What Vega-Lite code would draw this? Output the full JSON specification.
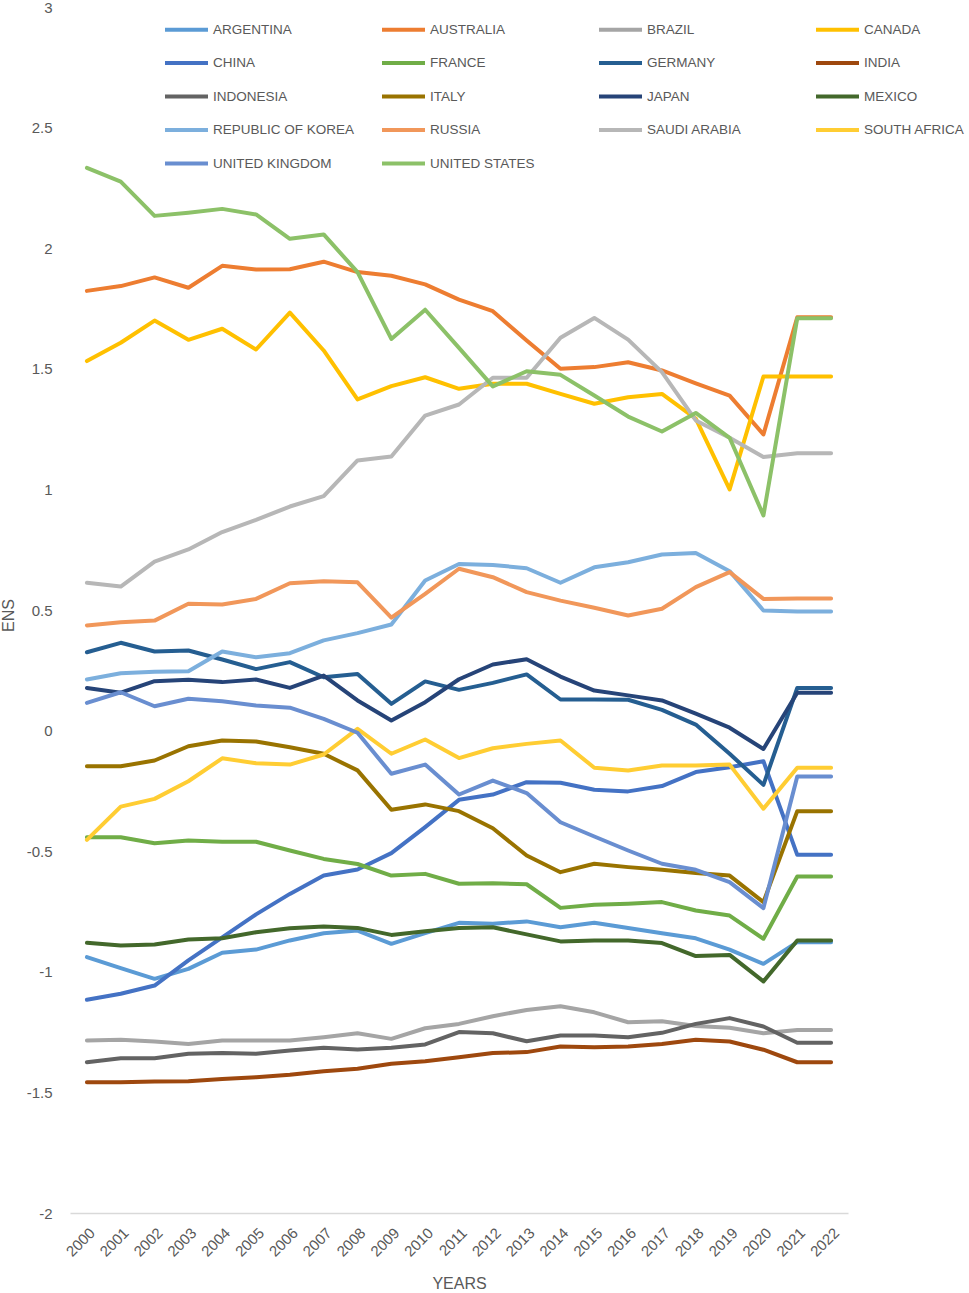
{
  "$schema": "https://vega.github.io/schema/vega-lite/v6.json",
  "autosize": {"type": "none"},
  "padding": {"left": 70, "top": 7, "right": 121, "bottom": 80},
  "width": 778,
  "height": 1206,
  "data": {
    "values": [
      {"country": "ARGENTINA", "year": "2000", "ens": -0.939}, {"country": "ARGENTINA", "year": "2001", "ens": -0.985}, {"country": "ARGENTINA", "year": "2002", "ens": -1.029}, {"country": "ARGENTINA", "year": "2003", "ens": -0.988}, {"country": "ARGENTINA", "year": "2004", "ens": -0.921}, {"country": "ARGENTINA", "year": "2005", "ens": -0.908}, {"country": "ARGENTINA", "year": "2006", "ens": -0.870}, {"country": "ARGENTINA", "year": "2007", "ens": -0.840}, {"country": "ARGENTINA", "year": "2008", "ens": -0.829}, {"country": "ARGENTINA", "year": "2009", "ens": -0.884}, {"country": "ARGENTINA", "year": "2010", "ens": -0.840}, {"country": "ARGENTINA", "year": "2011", "ens": -0.797}, {"country": "ARGENTINA", "year": "2012", "ens": -0.801}, {"country": "ARGENTINA", "year": "2013", "ens": -0.791}, {"country": "ARGENTINA", "year": "2014", "ens": -0.815}, {"country": "ARGENTINA", "year": "2015", "ens": -0.797}, {"country": "ARGENTINA", "year": "2016", "ens": -0.818}, {"country": "ARGENTINA", "year": "2017", "ens": -0.840}, {"country": "ARGENTINA", "year": "2018", "ens": -0.861}, {"country": "ARGENTINA", "year": "2019", "ens": -0.908}, {"country": "ARGENTINA", "year": "2020", "ens": -0.967}, {"country": "ARGENTINA", "year": "2021", "ens": -0.877}, {"country": "ARGENTINA", "year": "2022", "ens": -0.877},
      {"country": "AUSTRALIA", "year": "2000", "ens": 1.823}, {"country": "AUSTRALIA", "year": "2001", "ens": 1.843}, {"country": "AUSTRALIA", "year": "2002", "ens": 1.879}, {"country": "AUSTRALIA", "year": "2003", "ens": 1.836}, {"country": "AUSTRALIA", "year": "2004", "ens": 1.927}, {"country": "AUSTRALIA", "year": "2005", "ens": 1.912}, {"country": "AUSTRALIA", "year": "2006", "ens": 1.913}, {"country": "AUSTRALIA", "year": "2007", "ens": 1.944}, {"country": "AUSTRALIA", "year": "2008", "ens": 1.901}, {"country": "AUSTRALIA", "year": "2009", "ens": 1.886}, {"country": "AUSTRALIA", "year": "2010", "ens": 1.850}, {"country": "AUSTRALIA", "year": "2011", "ens": 1.787}, {"country": "AUSTRALIA", "year": "2012", "ens": 1.739}, {"country": "AUSTRALIA", "year": "2013", "ens": 1.617}, {"country": "AUSTRALIA", "year": "2014", "ens": 1.500}, {"country": "AUSTRALIA", "year": "2015", "ens": 1.507}, {"country": "AUSTRALIA", "year": "2016", "ens": 1.527}, {"country": "AUSTRALIA", "year": "2017", "ens": 1.493}, {"country": "AUSTRALIA", "year": "2018", "ens": 1.440}, {"country": "AUSTRALIA", "year": "2019", "ens": 1.389}, {"country": "AUSTRALIA", "year": "2020", "ens": 1.228}, {"country": "AUSTRALIA", "year": "2021", "ens": 1.714}, {"country": "AUSTRALIA", "year": "2022", "ens": 1.714},
      {"country": "BRAZIL", "year": "2000", "ens": -1.285}, {"country": "BRAZIL", "year": "2001", "ens": -1.282}, {"country": "BRAZIL", "year": "2002", "ens": -1.289}, {"country": "BRAZIL", "year": "2003", "ens": -1.299}, {"country": "BRAZIL", "year": "2004", "ens": -1.285}, {"country": "BRAZIL", "year": "2005", "ens": -1.285}, {"country": "BRAZIL", "year": "2006", "ens": -1.285}, {"country": "BRAZIL", "year": "2007", "ens": -1.271}, {"country": "BRAZIL", "year": "2008", "ens": -1.255}, {"country": "BRAZIL", "year": "2009", "ens": -1.278}, {"country": "BRAZIL", "year": "2010", "ens": -1.234}, {"country": "BRAZIL", "year": "2011", "ens": -1.216}, {"country": "BRAZIL", "year": "2012", "ens": -1.184}, {"country": "BRAZIL", "year": "2013", "ens": -1.158}, {"country": "BRAZIL", "year": "2014", "ens": -1.143}, {"country": "BRAZIL", "year": "2015", "ens": -1.168}, {"country": "BRAZIL", "year": "2016", "ens": -1.209}, {"country": "BRAZIL", "year": "2017", "ens": -1.205}, {"country": "BRAZIL", "year": "2018", "ens": -1.225}, {"country": "BRAZIL", "year": "2019", "ens": -1.232}, {"country": "BRAZIL", "year": "2020", "ens": -1.255}, {"country": "BRAZIL", "year": "2021", "ens": -1.241}, {"country": "BRAZIL", "year": "2022", "ens": -1.241},
      {"country": "CANADA", "year": "2000", "ens": 1.532}, {"country": "CANADA", "year": "2001", "ens": 1.608}, {"country": "CANADA", "year": "2002", "ens": 1.700}, {"country": "CANADA", "year": "2003", "ens": 1.620}, {"country": "CANADA", "year": "2004", "ens": 1.666}, {"country": "CANADA", "year": "2005", "ens": 1.580}, {"country": "CANADA", "year": "2006", "ens": 1.733}, {"country": "CANADA", "year": "2007", "ens": 1.576}, {"country": "CANADA", "year": "2008", "ens": 1.373}, {"country": "CANADA", "year": "2009", "ens": 1.428}, {"country": "CANADA", "year": "2010", "ens": 1.465}, {"country": "CANADA", "year": "2011", "ens": 1.417}, {"country": "CANADA", "year": "2012", "ens": 1.438}, {"country": "CANADA", "year": "2013", "ens": 1.438}, {"country": "CANADA", "year": "2014", "ens": 1.396}, {"country": "CANADA", "year": "2015", "ens": 1.355}, {"country": "CANADA", "year": "2016", "ens": 1.382}, {"country": "CANADA", "year": "2017", "ens": 1.396}, {"country": "CANADA", "year": "2018", "ens": 1.293}, {"country": "CANADA", "year": "2019", "ens": 1.000}, {"country": "CANADA", "year": "2020", "ens": 1.468}, {"country": "CANADA", "year": "2021", "ens": 1.468}, {"country": "CANADA", "year": "2022", "ens": 1.468},
      {"country": "CHINA", "year": "2000", "ens": -1.116}, {"country": "CHINA", "year": "2001", "ens": -1.091}, {"country": "CHINA", "year": "2002", "ens": -1.057}, {"country": "CHINA", "year": "2003", "ens": -0.953}, {"country": "CHINA", "year": "2004", "ens": -0.857}, {"country": "CHINA", "year": "2005", "ens": -0.762}, {"country": "CHINA", "year": "2006", "ens": -0.677}, {"country": "CHINA", "year": "2007", "ens": -0.601}, {"country": "CHINA", "year": "2008", "ens": -0.576}, {"country": "CHINA", "year": "2009", "ens": -0.508}, {"country": "CHINA", "year": "2010", "ens": -0.400}, {"country": "CHINA", "year": "2011", "ens": -0.287}, {"country": "CHINA", "year": "2012", "ens": -0.265}, {"country": "CHINA", "year": "2013", "ens": -0.214}, {"country": "CHINA", "year": "2014", "ens": -0.216}, {"country": "CHINA", "year": "2015", "ens": -0.245}, {"country": "CHINA", "year": "2016", "ens": -0.252}, {"country": "CHINA", "year": "2017", "ens": -0.230}, {"country": "CHINA", "year": "2018", "ens": -0.172}, {"country": "CHINA", "year": "2019", "ens": -0.152}, {"country": "CHINA", "year": "2020", "ens": -0.127}, {"country": "CHINA", "year": "2021", "ens": -0.515}, {"country": "CHINA", "year": "2022", "ens": -0.515},
      {"country": "FRANCE", "year": "2000", "ens": -0.442}, {"country": "FRANCE", "year": "2001", "ens": -0.442}, {"country": "FRANCE", "year": "2002", "ens": -0.467}, {"country": "FRANCE", "year": "2003", "ens": -0.456}, {"country": "FRANCE", "year": "2004", "ens": -0.461}, {"country": "FRANCE", "year": "2005", "ens": -0.461}, {"country": "FRANCE", "year": "2006", "ens": -0.497}, {"country": "FRANCE", "year": "2007", "ens": -0.532}, {"country": "FRANCE", "year": "2008", "ens": -0.553}, {"country": "FRANCE", "year": "2009", "ens": -0.601}, {"country": "FRANCE", "year": "2010", "ens": -0.594}, {"country": "FRANCE", "year": "2011", "ens": -0.635}, {"country": "FRANCE", "year": "2012", "ens": -0.633}, {"country": "FRANCE", "year": "2013", "ens": -0.637}, {"country": "FRANCE", "year": "2014", "ens": -0.735}, {"country": "FRANCE", "year": "2015", "ens": -0.722}, {"country": "FRANCE", "year": "2016", "ens": -0.718}, {"country": "FRANCE", "year": "2017", "ens": -0.711}, {"country": "FRANCE", "year": "2018", "ens": -0.746}, {"country": "FRANCE", "year": "2019", "ens": -0.767}, {"country": "FRANCE", "year": "2020", "ens": -0.863}, {"country": "FRANCE", "year": "2021", "ens": -0.605}, {"country": "FRANCE", "year": "2022", "ens": -0.605},
      {"country": "GERMANY", "year": "2000", "ens": 0.325}, {"country": "GERMANY", "year": "2001", "ens": 0.364}, {"country": "GERMANY", "year": "2002", "ens": 0.328}, {"country": "GERMANY", "year": "2003", "ens": 0.332}, {"country": "GERMANY", "year": "2004", "ens": 0.295}, {"country": "GERMANY", "year": "2005", "ens": 0.255}, {"country": "GERMANY", "year": "2006", "ens": 0.284}, {"country": "GERMANY", "year": "2007", "ens": 0.221}, {"country": "GERMANY", "year": "2008", "ens": 0.235}, {"country": "GERMANY", "year": "2009", "ens": 0.111}, {"country": "GERMANY", "year": "2010", "ens": 0.204}, {"country": "GERMANY", "year": "2011", "ens": 0.169}, {"country": "GERMANY", "year": "2012", "ens": 0.198}, {"country": "GERMANY", "year": "2013", "ens": 0.233}, {"country": "GERMANY", "year": "2014", "ens": 0.129}, {"country": "GERMANY", "year": "2015", "ens": 0.129}, {"country": "GERMANY", "year": "2016", "ens": 0.128}, {"country": "GERMANY", "year": "2017", "ens": 0.086}, {"country": "GERMANY", "year": "2018", "ens": 0.025}, {"country": "GERMANY", "year": "2019", "ens": -0.096}, {"country": "GERMANY", "year": "2020", "ens": -0.225}, {"country": "GERMANY", "year": "2021", "ens": 0.177}, {"country": "GERMANY", "year": "2022", "ens": 0.177},
      {"country": "INDIA", "year": "2000", "ens": -1.458}, {"country": "INDIA", "year": "2001", "ens": -1.458}, {"country": "INDIA", "year": "2002", "ens": -1.455}, {"country": "INDIA", "year": "2003", "ens": -1.454}, {"country": "INDIA", "year": "2004", "ens": -1.444}, {"country": "INDIA", "year": "2005", "ens": -1.437}, {"country": "INDIA", "year": "2006", "ens": -1.427}, {"country": "INDIA", "year": "2007", "ens": -1.412}, {"country": "INDIA", "year": "2008", "ens": -1.402}, {"country": "INDIA", "year": "2009", "ens": -1.381}, {"country": "INDIA", "year": "2010", "ens": -1.371}, {"country": "INDIA", "year": "2011", "ens": -1.354}, {"country": "INDIA", "year": "2012", "ens": -1.337}, {"country": "INDIA", "year": "2013", "ens": -1.333}, {"country": "INDIA", "year": "2014", "ens": -1.310}, {"country": "INDIA", "year": "2015", "ens": -1.313}, {"country": "INDIA", "year": "2016", "ens": -1.310}, {"country": "INDIA", "year": "2017", "ens": -1.299}, {"country": "INDIA", "year": "2018", "ens": -1.282}, {"country": "INDIA", "year": "2019", "ens": -1.289}, {"country": "INDIA", "year": "2020", "ens": -1.323}, {"country": "INDIA", "year": "2021", "ens": -1.375}, {"country": "INDIA", "year": "2022", "ens": -1.375},
      {"country": "INDONESIA", "year": "2000", "ens": -1.375}, {"country": "INDONESIA", "year": "2001", "ens": -1.358}, {"country": "INDONESIA", "year": "2002", "ens": -1.358}, {"country": "INDONESIA", "year": "2003", "ens": -1.340}, {"country": "INDONESIA", "year": "2004", "ens": -1.337}, {"country": "INDONESIA", "year": "2005", "ens": -1.340}, {"country": "INDONESIA", "year": "2006", "ens": -1.326}, {"country": "INDONESIA", "year": "2007", "ens": -1.315}, {"country": "INDONESIA", "year": "2008", "ens": -1.322}, {"country": "INDONESIA", "year": "2009", "ens": -1.315}, {"country": "INDONESIA", "year": "2010", "ens": -1.301}, {"country": "INDONESIA", "year": "2011", "ens": -1.250}, {"country": "INDONESIA", "year": "2012", "ens": -1.255}, {"country": "INDONESIA", "year": "2013", "ens": -1.288}, {"country": "INDONESIA", "year": "2014", "ens": -1.264}, {"country": "INDONESIA", "year": "2015", "ens": -1.264}, {"country": "INDONESIA", "year": "2016", "ens": -1.271}, {"country": "INDONESIA", "year": "2017", "ens": -1.253}, {"country": "INDONESIA", "year": "2018", "ens": -1.216}, {"country": "INDONESIA", "year": "2019", "ens": -1.192}, {"country": "INDONESIA", "year": "2020", "ens": -1.227}, {"country": "INDONESIA", "year": "2021", "ens": -1.294}, {"country": "INDONESIA", "year": "2022", "ens": -1.294},
      {"country": "ITALY", "year": "2000", "ens": -0.148}, {"country": "ITALY", "year": "2001", "ens": -0.148}, {"country": "ITALY", "year": "2002", "ens": -0.124}, {"country": "ITALY", "year": "2003", "ens": -0.065}, {"country": "ITALY", "year": "2004", "ens": -0.041}, {"country": "ITALY", "year": "2005", "ens": -0.045}, {"country": "ITALY", "year": "2006", "ens": -0.069}, {"country": "ITALY", "year": "2007", "ens": -0.096}, {"country": "ITALY", "year": "2008", "ens": -0.165}, {"country": "ITALY", "year": "2009", "ens": -0.328}, {"country": "ITALY", "year": "2010", "ens": -0.306}, {"country": "ITALY", "year": "2011", "ens": -0.334}, {"country": "ITALY", "year": "2012", "ens": -0.405}, {"country": "ITALY", "year": "2013", "ens": -0.518}, {"country": "ITALY", "year": "2014", "ens": -0.587}, {"country": "ITALY", "year": "2015", "ens": -0.552}, {"country": "ITALY", "year": "2016", "ens": -0.566}, {"country": "ITALY", "year": "2017", "ens": -0.577}, {"country": "ITALY", "year": "2018", "ens": -0.590}, {"country": "ITALY", "year": "2019", "ens": -0.601}, {"country": "ITALY", "year": "2020", "ens": -0.711}, {"country": "ITALY", "year": "2021", "ens": -0.334}, {"country": "ITALY", "year": "2022", "ens": -0.334},
      {"country": "JAPAN", "year": "2000", "ens": 0.177}, {"country": "JAPAN", "year": "2001", "ens": 0.157}, {"country": "JAPAN", "year": "2002", "ens": 0.205}, {"country": "JAPAN", "year": "2003", "ens": 0.211}, {"country": "JAPAN", "year": "2004", "ens": 0.201}, {"country": "JAPAN", "year": "2005", "ens": 0.212}, {"country": "JAPAN", "year": "2006", "ens": 0.177}, {"country": "JAPAN", "year": "2007", "ens": 0.228}, {"country": "JAPAN", "year": "2008", "ens": 0.125}, {"country": "JAPAN", "year": "2009", "ens": 0.042}, {"country": "JAPAN", "year": "2010", "ens": 0.118}, {"country": "JAPAN", "year": "2011", "ens": 0.213}, {"country": "JAPAN", "year": "2012", "ens": 0.274}, {"country": "JAPAN", "year": "2013", "ens": 0.296}, {"country": "JAPAN", "year": "2014", "ens": 0.224}, {"country": "JAPAN", "year": "2015", "ens": 0.166}, {"country": "JAPAN", "year": "2016", "ens": 0.146}, {"country": "JAPAN", "year": "2017", "ens": 0.125}, {"country": "JAPAN", "year": "2018", "ens": 0.070}, {"country": "JAPAN", "year": "2019", "ens": 0.012}, {"country": "JAPAN", "year": "2020", "ens": -0.076}, {"country": "JAPAN", "year": "2021", "ens": 0.157}, {"country": "JAPAN", "year": "2022", "ens": 0.157},
      {"country": "MEXICO", "year": "2000", "ens": -0.880}, {"country": "MEXICO", "year": "2001", "ens": -0.891}, {"country": "MEXICO", "year": "2002", "ens": -0.887}, {"country": "MEXICO", "year": "2003", "ens": -0.866}, {"country": "MEXICO", "year": "2004", "ens": -0.861}, {"country": "MEXICO", "year": "2005", "ens": -0.836}, {"country": "MEXICO", "year": "2006", "ens": -0.819}, {"country": "MEXICO", "year": "2007", "ens": -0.812}, {"country": "MEXICO", "year": "2008", "ens": -0.818}, {"country": "MEXICO", "year": "2009", "ens": -0.847}, {"country": "MEXICO", "year": "2010", "ens": -0.832}, {"country": "MEXICO", "year": "2011", "ens": -0.818}, {"country": "MEXICO", "year": "2012", "ens": -0.815}, {"country": "MEXICO", "year": "2013", "ens": -0.845}, {"country": "MEXICO", "year": "2014", "ens": -0.874}, {"country": "MEXICO", "year": "2015", "ens": -0.870}, {"country": "MEXICO", "year": "2016", "ens": -0.870}, {"country": "MEXICO", "year": "2017", "ens": -0.881}, {"country": "MEXICO", "year": "2018", "ens": -0.935}, {"country": "MEXICO", "year": "2019", "ens": -0.930}, {"country": "MEXICO", "year": "2020", "ens": -1.040}, {"country": "MEXICO", "year": "2021", "ens": -0.870}, {"country": "MEXICO", "year": "2022", "ens": -0.870},
      {"country": "REPUBLIC OF KOREA", "year": "2000", "ens": 0.212}, {"country": "REPUBLIC OF KOREA", "year": "2001", "ens": 0.238}, {"country": "REPUBLIC OF KOREA", "year": "2002", "ens": 0.244}, {"country": "REPUBLIC OF KOREA", "year": "2003", "ens": 0.246}, {"country": "REPUBLIC OF KOREA", "year": "2004", "ens": 0.328}, {"country": "REPUBLIC OF KOREA", "year": "2005", "ens": 0.304}, {"country": "REPUBLIC OF KOREA", "year": "2006", "ens": 0.321}, {"country": "REPUBLIC OF KOREA", "year": "2007", "ens": 0.374}, {"country": "REPUBLIC OF KOREA", "year": "2008", "ens": 0.404}, {"country": "REPUBLIC OF KOREA", "year": "2009", "ens": 0.440}, {"country": "REPUBLIC OF KOREA", "year": "2010", "ens": 0.622}, {"country": "REPUBLIC OF KOREA", "year": "2011", "ens": 0.691}, {"country": "REPUBLIC OF KOREA", "year": "2012", "ens": 0.687}, {"country": "REPUBLIC OF KOREA", "year": "2013", "ens": 0.673}, {"country": "REPUBLIC OF KOREA", "year": "2014", "ens": 0.613}, {"country": "REPUBLIC OF KOREA", "year": "2015", "ens": 0.677}, {"country": "REPUBLIC OF KOREA", "year": "2016", "ens": 0.698}, {"country": "REPUBLIC OF KOREA", "year": "2017", "ens": 0.730}, {"country": "REPUBLIC OF KOREA", "year": "2018", "ens": 0.736}, {"country": "REPUBLIC OF KOREA", "year": "2019", "ens": 0.661}, {"country": "REPUBLIC OF KOREA", "year": "2020", "ens": 0.498}, {"country": "REPUBLIC OF KOREA", "year": "2021", "ens": 0.494}, {"country": "REPUBLIC OF KOREA", "year": "2022", "ens": 0.494},
      {"country": "RUSSIA", "year": "2000", "ens": 0.436}, {"country": "RUSSIA", "year": "2001", "ens": 0.449}, {"country": "RUSSIA", "year": "2002", "ens": 0.456}, {"country": "RUSSIA", "year": "2003", "ens": 0.526}, {"country": "RUSSIA", "year": "2004", "ens": 0.523}, {"country": "RUSSIA", "year": "2005", "ens": 0.546}, {"country": "RUSSIA", "year": "2006", "ens": 0.611}, {"country": "RUSSIA", "year": "2007", "ens": 0.619}, {"country": "RUSSIA", "year": "2008", "ens": 0.615}, {"country": "RUSSIA", "year": "2009", "ens": 0.468}, {"country": "RUSSIA", "year": "2010", "ens": 0.567}, {"country": "RUSSIA", "year": "2011", "ens": 0.671}, {"country": "RUSSIA", "year": "2012", "ens": 0.636}, {"country": "RUSSIA", "year": "2013", "ens": 0.574}, {"country": "RUSSIA", "year": "2014", "ens": 0.539}, {"country": "RUSSIA", "year": "2015", "ens": 0.509}, {"country": "RUSSIA", "year": "2016", "ens": 0.477}, {"country": "RUSSIA", "year": "2017", "ens": 0.505}, {"country": "RUSSIA", "year": "2018", "ens": 0.595}, {"country": "RUSSIA", "year": "2019", "ens": 0.657}, {"country": "RUSSIA", "year": "2020", "ens": 0.546}, {"country": "RUSSIA", "year": "2021", "ens": 0.548}, {"country": "RUSSIA", "year": "2022", "ens": 0.548},
      {"country": "SAUDI ARABIA", "year": "2000", "ens": 0.613}, {"country": "SAUDI ARABIA", "year": "2001", "ens": 0.597}, {"country": "SAUDI ARABIA", "year": "2002", "ens": 0.701}, {"country": "SAUDI ARABIA", "year": "2003", "ens": 0.751}, {"country": "SAUDI ARABIA", "year": "2004", "ens": 0.823}, {"country": "SAUDI ARABIA", "year": "2005", "ens": 0.874}, {"country": "SAUDI ARABIA", "year": "2006", "ens": 0.929}, {"country": "SAUDI ARABIA", "year": "2007", "ens": 0.972}, {"country": "SAUDI ARABIA", "year": "2008", "ens": 1.120}, {"country": "SAUDI ARABIA", "year": "2009", "ens": 1.136}, {"country": "SAUDI ARABIA", "year": "2010", "ens": 1.306}, {"country": "SAUDI ARABIA", "year": "2011", "ens": 1.352}, {"country": "SAUDI ARABIA", "year": "2012", "ens": 1.463}, {"country": "SAUDI ARABIA", "year": "2013", "ens": 1.463}, {"country": "SAUDI ARABIA", "year": "2014", "ens": 1.629}, {"country": "SAUDI ARABIA", "year": "2015", "ens": 1.711}, {"country": "SAUDI ARABIA", "year": "2016", "ens": 1.621}, {"country": "SAUDI ARABIA", "year": "2017", "ens": 1.486}, {"country": "SAUDI ARABIA", "year": "2018", "ens": 1.286}, {"country": "SAUDI ARABIA", "year": "2019", "ens": 1.214}, {"country": "SAUDI ARABIA", "year": "2020", "ens": 1.134}, {"country": "SAUDI ARABIA", "year": "2021", "ens": 1.150}, {"country": "SAUDI ARABIA", "year": "2022", "ens": 1.150},
      {"country": "SOUTH AFRICA", "year": "2000", "ens": -0.453}, {"country": "SOUTH AFRICA", "year": "2001", "ens": -0.315}, {"country": "SOUTH AFRICA", "year": "2002", "ens": -0.283}, {"country": "SOUTH AFRICA", "year": "2003", "ens": -0.210}, {"country": "SOUTH AFRICA", "year": "2004", "ens": -0.115}, {"country": "SOUTH AFRICA", "year": "2005", "ens": -0.135}, {"country": "SOUTH AFRICA", "year": "2006", "ens": -0.141}, {"country": "SOUTH AFRICA", "year": "2007", "ens": -0.099}, {"country": "SOUTH AFRICA", "year": "2008", "ens": 0.007}, {"country": "SOUTH AFRICA", "year": "2009", "ens": -0.096}, {"country": "SOUTH AFRICA", "year": "2010", "ens": -0.037}, {"country": "SOUTH AFRICA", "year": "2011", "ens": -0.114}, {"country": "SOUTH AFRICA", "year": "2012", "ens": -0.073}, {"country": "SOUTH AFRICA", "year": "2013", "ens": -0.055}, {"country": "SOUTH AFRICA", "year": "2014", "ens": -0.041}, {"country": "SOUTH AFRICA", "year": "2015", "ens": -0.154}, {"country": "SOUTH AFRICA", "year": "2016", "ens": -0.165}, {"country": "SOUTH AFRICA", "year": "2017", "ens": -0.145}, {"country": "SOUTH AFRICA", "year": "2018", "ens": -0.145}, {"country": "SOUTH AFRICA", "year": "2019", "ens": -0.141}, {"country": "SOUTH AFRICA", "year": "2020", "ens": -0.324}, {"country": "SOUTH AFRICA", "year": "2021", "ens": -0.154}, {"country": "SOUTH AFRICA", "year": "2022", "ens": -0.154},
      {"country": "UNITED KINGDOM", "year": "2000", "ens": 0.115}, {"country": "UNITED KINGDOM", "year": "2001", "ens": 0.159}, {"country": "UNITED KINGDOM", "year": "2002", "ens": 0.101}, {"country": "UNITED KINGDOM", "year": "2003", "ens": 0.132}, {"country": "UNITED KINGDOM", "year": "2004", "ens": 0.122}, {"country": "UNITED KINGDOM", "year": "2005", "ens": 0.104}, {"country": "UNITED KINGDOM", "year": "2006", "ens": 0.095}, {"country": "UNITED KINGDOM", "year": "2007", "ens": 0.049}, {"country": "UNITED KINGDOM", "year": "2008", "ens": -0.009}, {"country": "UNITED KINGDOM", "year": "2009", "ens": -0.179}, {"country": "UNITED KINGDOM", "year": "2010", "ens": -0.141}, {"country": "UNITED KINGDOM", "year": "2011", "ens": -0.265}, {"country": "UNITED KINGDOM", "year": "2012", "ens": -0.207}, {"country": "UNITED KINGDOM", "year": "2013", "ens": -0.259}, {"country": "UNITED KINGDOM", "year": "2014", "ens": -0.380}, {"country": "UNITED KINGDOM", "year": "2015", "ens": -0.439}, {"country": "UNITED KINGDOM", "year": "2016", "ens": -0.497}, {"country": "UNITED KINGDOM", "year": "2017", "ens": -0.552}, {"country": "UNITED KINGDOM", "year": "2018", "ens": -0.577}, {"country": "UNITED KINGDOM", "year": "2019", "ens": -0.628}, {"country": "UNITED KINGDOM", "year": "2020", "ens": -0.736}, {"country": "UNITED KINGDOM", "year": "2021", "ens": -0.190}, {"country": "UNITED KINGDOM", "year": "2022", "ens": -0.190},
      {"country": "UNITED STATES", "year": "2000", "ens": 2.333}, {"country": "UNITED STATES", "year": "2001", "ens": 2.276}, {"country": "UNITED STATES", "year": "2002", "ens": 2.134}, {"country": "UNITED STATES", "year": "2003", "ens": 2.147}, {"country": "UNITED STATES", "year": "2004", "ens": 2.163}, {"country": "UNITED STATES", "year": "2005", "ens": 2.140}, {"country": "UNITED STATES", "year": "2006", "ens": 2.039}, {"country": "UNITED STATES", "year": "2007", "ens": 2.057}, {"country": "UNITED STATES", "year": "2008", "ens": 1.901}, {"country": "UNITED STATES", "year": "2009", "ens": 1.624}, {"country": "UNITED STATES", "year": "2010", "ens": 1.745}, {"country": "UNITED STATES", "year": "2011", "ens": 1.587}, {"country": "UNITED STATES", "year": "2012", "ens": 1.427}, {"country": "UNITED STATES", "year": "2013", "ens": 1.490}, {"country": "UNITED STATES", "year": "2014", "ens": 1.475}, {"country": "UNITED STATES", "year": "2015", "ens": 1.389}, {"country": "UNITED STATES", "year": "2016", "ens": 1.302}, {"country": "UNITED STATES", "year": "2017", "ens": 1.240}, {"country": "UNITED STATES", "year": "2018", "ens": 1.317}, {"country": "UNITED STATES", "year": "2019", "ens": 1.214}, {"country": "UNITED STATES", "year": "2020", "ens": 0.892}, {"country": "UNITED STATES", "year": "2021", "ens": 1.710}, {"country": "UNITED STATES", "year": "2022", "ens": 1.710}
    ]
  },
  "mark": {"type": "line", "strokeWidth": 4, "strokeCap": "round", "strokeJoin": "round"},
  "encoding": {
    "x": {
      "field": "year",
      "type": "ordinal",
      "title": "YEARS",
      "axis": {
        "labelAngle": -45,
        "labelFontSize": 15,
        "ticks": false,
        "domainColor": "#d9d9d9",
        "domainWidth": 1.5,
        "labelPadding": 12,
        "titleY": 70,
        "titleBaseline": "middle"
      }
    },
    "y": {
      "field": "ens",
      "type": "quantitative",
      "title": "ENS",
      "scale": {"domain": [-2, 3], "nice": false, "zero": false},
      "axis": {
        "values": [-2, -1.5, -1, -0.5, 0, 0.5, 1, 1.5, 2, 2.5, 3],
        "labelExpr": "toString(datum.value)",
        "grid": false,
        "domain": false,
        "ticks": false,
        "labelPadding": 18,
        "labelFontSize": 15,
        "titleX": -62,
        "titleY": 608,
        "titleAlign": "center",
        "titleBaseline": "middle"
      }
    },
    "color": {
      "field": "country",
      "type": "nominal",
      "scale": {
        "domain": ["ARGENTINA", "AUSTRALIA", "BRAZIL", "CANADA", "CHINA", "FRANCE", "GERMANY", "INDIA", "INDONESIA", "ITALY", "JAPAN", "MEXICO", "REPUBLIC OF KOREA", "RUSSIA", "SAUDI ARABIA", "SOUTH AFRICA", "UNITED KINGDOM", "UNITED STATES"],
        "range": ["#5b9bd5", "#ed7d31", "#a5a5a5", "#ffc000", "#4472c4", "#70ad47", "#255e91", "#9e480e", "#636363", "#997300", "#264478", "#43682b", "#7cafdd", "#f1975a", "#b7b7b7", "#ffcd33", "#698ed0", "#8cc168"]
      },
      "legend": {
        "title": null,
        "orient": "none",
        "direction": "horizontal",
        "legendX": 93,
        "legendY": -1,
        "columns": 4,
        "gridAlign": "all",
        "columnPadding": 19,
        "rowPadding": 1.5,
        "symbolType": "stroke",
        "symbolStrokeWidth": 4,
        "symbolSize": 1849,
        "labelOffset": 3,
        "labelFontSize": 13.5,
        "labelLimit": 300
      }
    }
  },
  "config": {
    "view": {"stroke": null},
    "font": "Liberation Sans",
    "axis": {
      "labelFont": "Liberation Sans",
      "titleFont": "Liberation Sans",
      "labelColor": "#595959",
      "titleColor": "#595959",
      "titleFontSize": 16,
      "titleFontWeight": "normal"
    },
    "legend": {
      "labelFont": "Liberation Sans",
      "labelColor": "#595959"
    }
  }
}
